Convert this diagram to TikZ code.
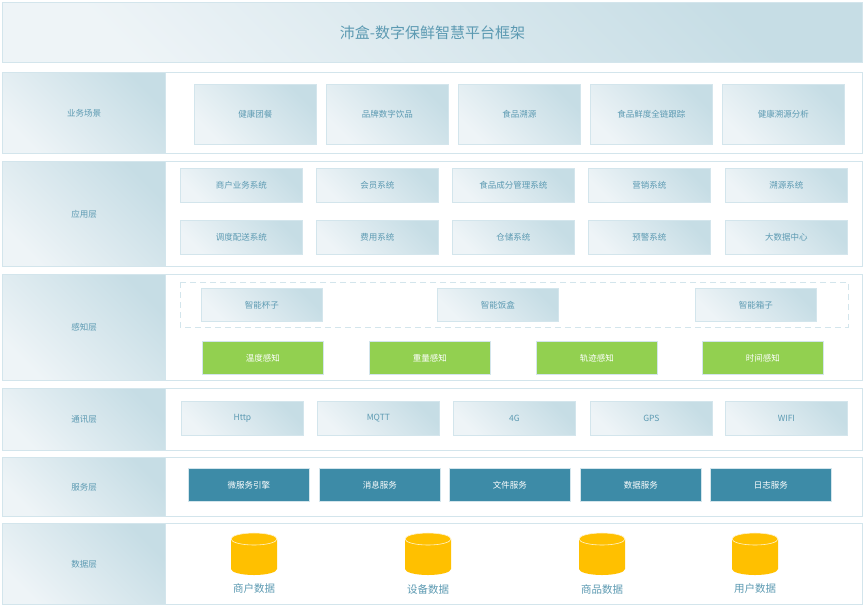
\documentclass[tikz,border=0pt]{standalone}
\usepackage{fontspec}
\setmainfont{Noto Sans CJK SC}
\usetikzlibrary{positioning}
\definecolor{lineblue}{HTML}{D3E5EC}
\definecolor{txtblue}{HTML}{5C9AB2}
\definecolor{lightfill}{HTML}{EEF4F7}
\definecolor{darkfill}{HTML}{C6DDE5}
\definecolor{svcblue}{HTML}{3D8BA7}
\definecolor{sensegreen}{HTML}{92D050}
\definecolor{dbyellow}{HTML}{FFC000}
\tikzset{
  rowbox/.style={draw=lineblue,line width=1.2pt,fill=white,anchor=north west,inner sep=0pt},
  labelbox/.style={draw=lineblue,line width=1pt,anchor=north west,inner sep=0pt,
    shading=axis,left color=lightfill,right color=darkfill,shading angle=135,
    text=txtblue,font=\fontsize{8.5}{10}\selectfont},
  itembox/.style={labelbox,line width=0.8pt,minimum height=34pt},
  svcbox/.style={draw=lineblue,line width=0.6pt,fill=svcblue,anchor=north west,text=white,
    minimum width=121pt,minimum height=33pt,font=\fontsize{8.5}{10}\selectfont},
  sensebox/.style={draw=lineblue,line width=0.6pt,fill=sensegreen,anchor=north west,text=white,
    minimum width=121pt,minimum height=33pt,font=\fontsize{8.5}{10}\selectfont},
}
\begin{document}
\begin{tikzpicture}[x=1pt,y=-1pt]
\useasboundingbox (0,0) rectangle (866,606);
% title
\node[labelbox,minimum width=860pt,minimum height=60pt,font=\fontsize{15}{17}\selectfont] (title) at (2,2) {沛盒-数字保鲜智慧平台框架};
% rows
\foreach \y/\h/\nm/\lbl in {72/81/biz/业务场景,161/105/app/应用层,274/106/sense/感知层,388/62/comm/通讯层,457/59/svc/服务层,523/81/data/数据层}{
  \node[rowbox,minimum width=860pt,minimum height=\h pt] (\nm row) at (2,\y) {};
  \node[labelbox,minimum width=163pt,minimum height=\h pt] (\nm label) at (2,\y) {\lbl};
}
% business scenes
\foreach \x/\t [count=\i] in {194/健康团餐,326/品牌数字饮品,458/食品溯源,590/食品鲜度全链跟踪,722/健康溯源分析}
  \node[itembox,minimum width=122pt,minimum height=60pt] (biz\i) at (\x,84) {\t};
% applications
\foreach \x/\t [count=\i] in {180/商户业务系统,316/会员系统,452/食品成分管理系统,588/营销系统,725/溯源系统}
  \node[itembox,minimum width=122pt] (appa\i) at (\x,168) {\t};
\foreach \x/\t [count=\i] in {180/调度配送系统,316/费用系统,452/仓储系统,588/预警系统,725/大数据中心}
  \node[itembox,minimum width=122pt] (appb\i) at (\x,220) {\t};
% sensing
\draw[lineblue,line width=1pt,dash pattern=on 6pt off 4pt] (180,282) rectangle (848,327);
\foreach \x/\t [count=\i] in {201/智能杯子,437/智能饭盒,695/智能箱子}
  \node[itembox,minimum width=121pt,minimum height=33pt] (dev\i) at (\x,288) {\t};
\foreach \x/\t [count=\i] in {202/温度感知,369/重量感知,536/轨迹感知,702/时间感知}
  \node[sensebox] (sense\i) at (\x,341) {\t};
% communication
\foreach \x/\t [count=\i] in {181/Http,317/MQTT,453/4G,590/GPS,725/WIFI}
  \node[itembox,minimum width=122pt] (comm\i) at (\x,401) {\t};
% services
\foreach \x/\t [count=\i] in {188/微服务引擎,319/消息服务,449/文件服务,580/数据服务,710/日志服务}
  \node[svcbox] (svc\i) at (\x,468) {\t};
% databases
\foreach \x/\t [count=\i] in {254/商户数据,428/设备数据,602/商品数据,755/用户数据}{
  \fill[dbyellow] (\x-23,539) -- (\x-23,569) arc[start angle=180,end angle=0,x radius=23,y radius=6]
    -- (\x+23,539) arc[start angle=0,end angle=-180,x radius=23,y radius=6] -- cycle;
  \draw[white!80!dbyellow,line width=0.6pt] (\x-23,539) arc[start angle=180,end angle=-180,x radius=23,y radius=6];
  \node[text=txtblue,font=\fontsize{10.5}{12}\selectfont] (db\i) at (\x,589) {\t};
}
\end{tikzpicture}
\end{document}
